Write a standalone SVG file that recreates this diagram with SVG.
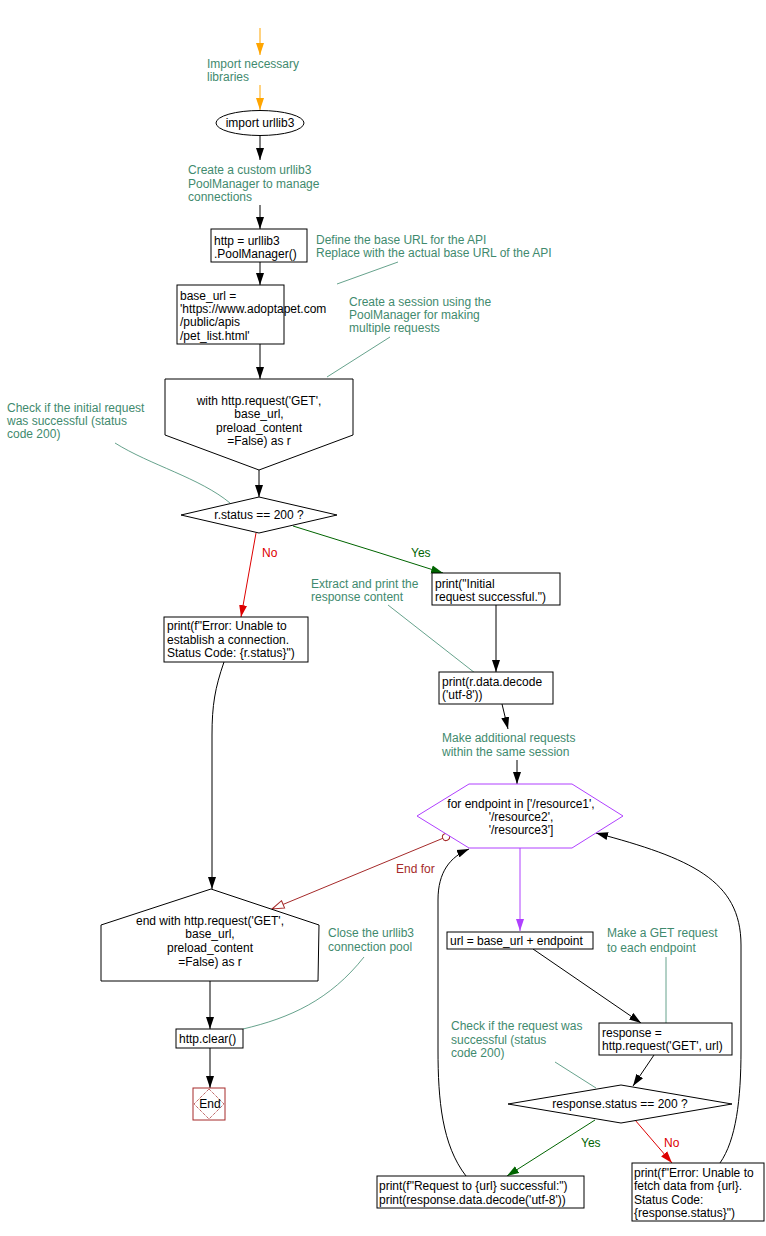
<svg xmlns="http://www.w3.org/2000/svg" width="766" height="1236" viewBox="0 0 766 1236">
<defs>
<style>
text{font-family:"Liberation Sans",Arial,sans-serif;font-size:12px;fill:#000}
.c{fill:#3f8a6e}
.m{text-anchor:middle}
.box{fill:#fff;stroke:#000;stroke-width:1}
.e{fill:none;stroke:#000;stroke-width:1}
.cl{fill:none;stroke:#3f8a6e;stroke-width:0.8}
.or{stroke:#ffa500}
.gr{stroke:#006400}
.rd{stroke:#dd0000}
.vi{stroke:#b040ff}
.dr{stroke:#a52a2a}
</style>
<marker id="ab" markerUnits="userSpaceOnUse" markerWidth="13" markerHeight="9" refX="12" refY="4.5" orient="auto"><path d="M0,0.5 L12,4.5 L0,8.5 z" fill="#000"/></marker>
<marker id="ao" markerUnits="userSpaceOnUse" markerWidth="13" markerHeight="9" refX="12" refY="4.5" orient="auto"><path d="M0,0.5 L12,4.5 L0,8.5 z" fill="#ffa500"/></marker>
<marker id="ag" markerUnits="userSpaceOnUse" markerWidth="13" markerHeight="9" refX="12" refY="4.5" orient="auto"><path d="M0,0.5 L12,4.5 L0,8.5 z" fill="#006400"/></marker>
<marker id="ar" markerUnits="userSpaceOnUse" markerWidth="13" markerHeight="9" refX="12" refY="4.5" orient="auto"><path d="M0,0.5 L12,4.5 L0,8.5 z" fill="#dd0000"/></marker>
<marker id="av" markerUnits="userSpaceOnUse" markerWidth="13" markerHeight="9" refX="12" refY="4.5" orient="auto"><path d="M0,0.5 L12,4.5 L0,8.5 z" fill="#b040ff"/></marker>
<marker id="aopen" markerUnits="userSpaceOnUse" markerWidth="14" markerHeight="10" refX="13" refY="5" orient="auto"><path d="M1,1 L13,5 L1,9 z" fill="#fff" stroke="#a52a2a"/></marker>
<marker id="dot" markerUnits="userSpaceOnUse" markerWidth="10" markerHeight="10" refX="5" refY="5" orient="auto"><circle cx="5" cy="5" r="3.5" fill="#fff" stroke="#a52a2a"/></marker>
</defs>

<g id="connectors">
<line class="e or" x1="260" y1="28" x2="260" y2="55" marker-end="url(#ao)"/>
<line class="e or" x1="260" y1="85" x2="260" y2="110" marker-end="url(#ao)"/>
<line class="e" x1="260" y1="136" x2="260" y2="160" marker-end="url(#ab)"/>
<line class="e" x1="260" y1="205" x2="260" y2="229" marker-end="url(#ab)"/>
<line class="e" x1="260" y1="262" x2="260" y2="285" marker-end="url(#ab)"/>
<line class="e" x1="260" y1="344" x2="260" y2="379" marker-end="url(#ab)"/>
<line class="e" x1="259" y1="470" x2="259" y2="497" marker-end="url(#ab)"/>
<line class="e rd" x1="256" y1="533" x2="241" y2="617" marker-end="url(#ar)"/>
<polyline class="e gr" points="293,526 380,553 443,573" marker-end="url(#ag)"/>
<line class="e" x1="496" y1="605" x2="496" y2="672" marker-end="url(#ab)"/>
<line class="e" x1="502" y1="704" x2="508" y2="729" marker-end="url(#ab)"/>
<line class="e" x1="517" y1="760" x2="517" y2="784" marker-end="url(#ab)"/>
<line class="e vi" x1="520" y1="848" x2="520" y2="931" marker-end="url(#av)"/>
<line class="e" x1="533" y1="949" x2="641" y2="1023" marker-end="url(#ab)"/>
<line class="e" x1="654" y1="1055" x2="633" y2="1086" marker-end="url(#ab)"/>
<line class="e gr" x1="595" y1="1120" x2="507" y2="1176" marker-end="url(#ag)"/>
<line class="e rd" x1="635" y1="1120" x2="672" y2="1163" marker-end="url(#ar)"/>
<path class="e" d="M466,1176 C442,1145 438,1100 438,1050 L438,900 C438,872 450,857 469,849" marker-end="url(#ab)"/>
<path class="e" d="M720,1163 C736,1140 741,1100 741,1050 L741,945 C741,880 690,858 596,833" marker-end="url(#ab)"/>
<path class="e" d="M224,662 C215,688 212,705 212,735 L212,889" marker-end="url(#ab)"/>
<line class="e" x1="210" y1="981" x2="210" y2="1029" marker-end="url(#ab)"/>
<line class="e" x1="210" y1="1048" x2="210" y2="1088" marker-end="url(#ab)"/>
<line class="e dr" x1="446" y1="837" x2="272" y2="909" marker-start="url(#dot)" marker-end="url(#aopen)"/>
<text x="262" y="557" fill="#dd0000" style="fill:#dd0000">No</text>
<text x="411" y="557" style="fill:#006400">Yes</text>
<text x="396" y="873" style="fill:#a52a2a">End for</text>
<text x="581" y="1147" style="fill:#006400">Yes</text>
<text x="664" y="1147" style="fill:#dd0000">No</text>
<line class="cl" x1="398" y1="262" x2="337" y2="284"/>
<line class="cl" x1="390" y1="337" x2="327" y2="377"/>
<path class="cl" d="M115,443 C150,465 200,478 230,503"/>
<line class="cl" x1="388" y1="605" x2="475" y2="673"/>
<path class="cl" d="M364,957 C330,1000 290,1018 243,1029"/>
<line class="cl" x1="666" y1="957" x2="666" y2="1023"/>
<line class="cl" x1="555" y1="1062" x2="596" y2="1088"/>
</g>

<g id="comments">
<text class="c" x="207" y="68">Import necessary</text>
<text class="c" x="207" y="81">libraries</text>
<text class="c" x="188" y="174">Create a custom urllib3</text>
<text class="c" x="188" y="188">PoolManager to manage</text>
<text class="c" x="188" y="201">connections</text>
<text class="c" x="316" y="244">Define the base URL for the API</text>
<text class="c" x="316" y="257">Replace with the actual base URL of the API</text>
<text class="c" x="349" y="306">Create a session using the</text>
<text class="c" x="349" y="319">PoolManager for making</text>
<text class="c" x="349" y="332">multiple requests</text>
<text class="c" x="7" y="412">Check if the initial request</text>
<text class="c" x="7" y="425">was successful (status</text>
<text class="c" x="7" y="438">code 200)</text>
<text class="c" x="311" y="588">Extract and print the</text>
<text class="c" x="311" y="601">response content</text>
<text class="c" x="442" y="742">Make additional requests</text>
<text class="c" x="442" y="756">within the same session</text>
<text class="c" x="328" y="937">Close the urllib3</text>
<text class="c" x="328" y="951">connection pool</text>
<text class="c" x="607" y="937">Make a GET request</text>
<text class="c" x="607" y="952">to each endpoint</text>
<text class="c" x="451" y="1030">Check if the request was</text>
<text class="c" x="451" y="1044">successful (status</text>
<text class="c" x="451" y="1057">code 200)</text>
</g>

<g id="n_import">
<ellipse class="box" cx="260" cy="123" rx="44" ry="12.5"/>
<text class="m" x="260" y="127">import urllib3</text>
</g>
<g id="n_http">
<rect class="box" x="211" y="229" width="96" height="33"/>
<text x="214" y="245">http = urllib3</text>
<text x="214" y="258">.PoolManager()</text>
</g>
<g id="n_base_url">
<rect class="box" x="177" y="285" width="107" height="59"/>
<text x="180" y="300">base_url =</text>
<text x="180" y="313">'https://www.adoptapet.com</text>
<text x="180" y="326">/public/apis</text>
<text x="180" y="340">/pet_list.html'</text>
</g>
<g id="n_with">
<polygon class="box" points="165,379 353,379 353,435 259,470 165,435"/>
<text class="m" x="259" y="405">with http.request('GET',</text>
<text class="m" x="259" y="418">base_url,</text>
<text class="m" x="259" y="432">preload_content</text>
<text class="m" x="259" y="445">=False) as r</text>
</g>
<g id="n_status">
<polygon class="box" points="259,497 337,515 259,533 181,515"/>
<text class="m" x="259" y="519">r.status == 200 ?</text>
</g>
<g id="n_initial">
<rect class="box" x="432" y="573" width="128" height="32"/>
<text x="435" y="588">print("Initial</text>
<text x="435" y="601">request successful.")</text>
</g>
<g id="n_error1">
<rect class="box" x="164" y="617" width="144" height="45"/>
<text x="167" y="630">print(f"Error: Unable to</text>
<text x="167" y="644">establish a connection.</text>
<text x="167" y="657">Status Code: {r.status}")</text>
</g>
<g id="n_decode">
<rect class="box" x="439" y="672" width="114" height="32"/>
<text x="442" y="686">print(r.data.decode</text>
<text x="442" y="699">('utf-8'))</text>
</g>
<g id="n_for">
<polygon points="469,784 572,784 623,816 572,848 469,848 417,816" fill="#fff" stroke="#b040ff" stroke-width="1"/>
<text class="m" x="521" y="808">for endpoint in ['/resource1',</text>
<text class="m" x="521" y="821">'/resource2',</text>
<text class="m" x="521" y="834">'/resource3']</text>
</g>
<g id="n_url">
<rect class="box" x="447" y="932" width="146" height="17"/>
<text x="450" y="945">url = base_url + endpoint</text>
</g>
<g id="n_response">
<rect class="box" x="599" y="1023" width="133" height="32"/>
<text x="602" y="1037">response =</text>
<text x="602" y="1050">http.request('GET', url)</text>
</g>
<g id="n_rstatus">
<polygon class="box" points="621,1085 732,1104 621,1123 508,1104"/>
<text class="m" x="620" y="1108">response.status == 200 ?</text>
</g>
<g id="n_success">
<rect class="box" x="377" y="1176" width="207" height="32"/>
<text x="379" y="1190">print(f"Request to {url} successful:")</text>
<text x="379" y="1204">print(response.data.decode('utf-8'))</text>
</g>
<g id="n_error2">
<rect class="box" x="632" y="1163" width="132" height="58"/>
<text x="634" y="1177">print(f"Error: Unable to</text>
<text x="634" y="1190">fetch data from {url}.</text>
<text x="634" y="1204">Status Code:</text>
<text x="634" y="1217">{response.status}")</text>
</g>
<g id="n_endwith">
<polygon class="box" points="211,889 319,925 318,981 101,981 101,925"/>
<text class="m" x="210" y="925">end with http.request('GET',</text>
<text class="m" x="210" y="938">base_url,</text>
<text class="m" x="210" y="952">preload_content</text>
<text class="m" x="210" y="966">=False) as r</text>
</g>
<g id="n_clear">
<rect class="box" x="176" y="1029" width="67" height="19"/>
<text x="179" y="1043">http.clear()</text>
</g>
<g id="n_end">
<rect x="193" y="1088" width="32" height="32" fill="#fff" stroke="#a52a2a"/>
<polygon points="209,1089 224,1104 209,1119 194,1104" fill="none" stroke="#a52a2a" stroke-dasharray="1,1"/>
<text class="m" x="210" y="1108">End</text>
</g>
</svg>
